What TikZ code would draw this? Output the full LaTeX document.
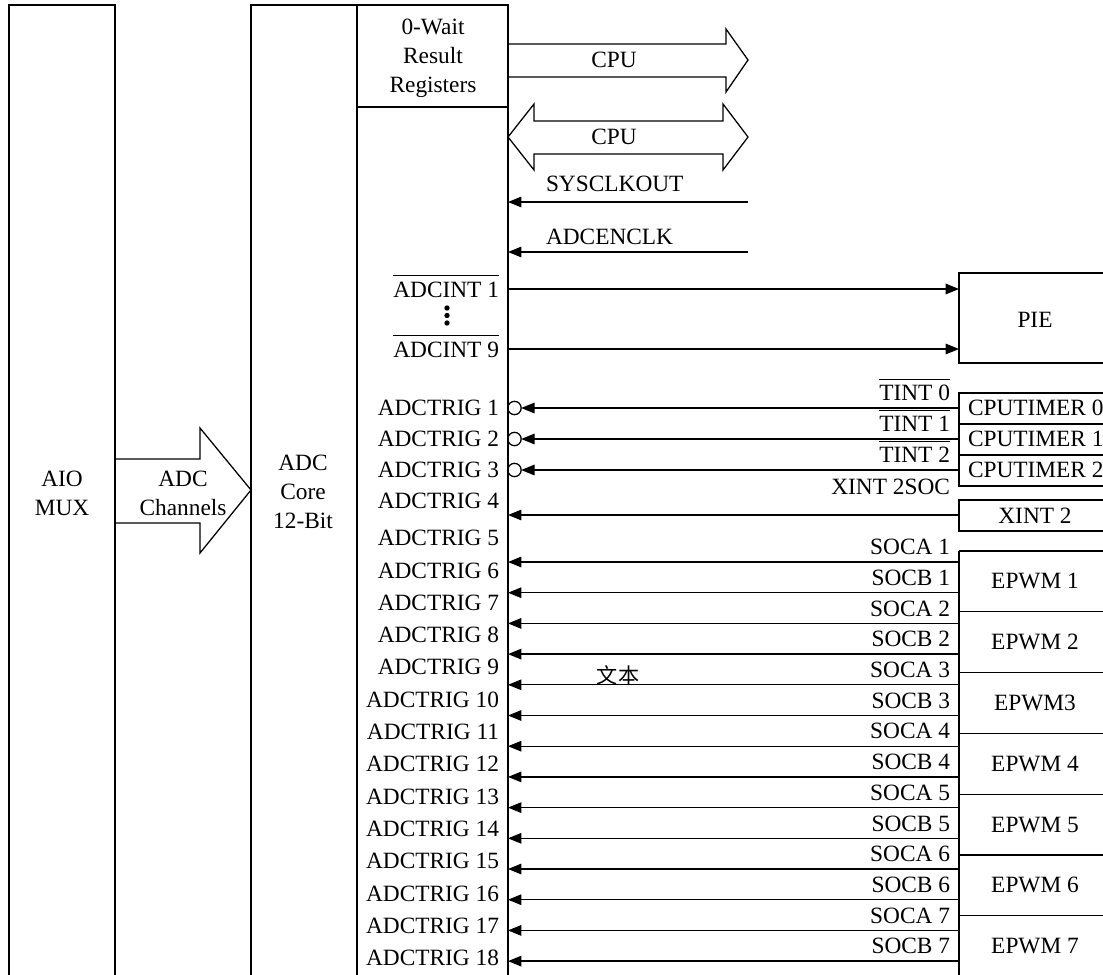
\documentclass[tikz,border=0pt]{standalone}
\usepackage{fontspec}
\setmainfont{Liberation Serif}
\newfontfamily\cjkfont{Noto Sans CJK SC}
\usetikzlibrary{arrows.meta}
\newcommand\myovl[1]{$\overline{\mbox{\rule{0pt}{13.8pt}#1}}$}
\begin{document}
\begin{tikzpicture}[x=0.025cm,y=-0.025cm,
  every node/.style={font=\fontsize{16.6}{20.5}\selectfont,inner sep=0pt,outer sep=0pt},
  ln/.style={line width=0.9pt},
  sig/.style={line width=0.9pt,-{Triangle[length=9.5pt,width=7.5pt]}},
  lab/.style={anchor=base east},
  ctr/.style={align=center},
  bub/.style={circle,draw,line width=0.9pt,minimum size=9.5pt,inner sep=0pt}
]
\useasboundingbox (0,0) rectangle (1103,974);
\fill[white] (0,0) rectangle (1103,974);
\clip (0,0) rectangle (1103,974);

% AIO MUX
\draw[ln] (9,990) -- (9,5) -- (115,5) -- (115,990);
\node[ctr] (aio) at (62,493) {AIO\\MUX};

% ADC core and register column
\draw[ln] (251,990) -- (251,5) -- (508,5) -- (508,990);
\draw[ln] (357,5) -- (357,990);
\draw[ln] (357,107) -- (508,107);
\node[ctr] (core) at (303,492) {ADC\\Core\\12-Bit};
\node[ctr] (res) at (433,58) {0-Wait\\Result\\Registers};

% ADC Channels block arrow
\draw[ln] (115,459) -- (200,459) -- (200,428) -- (251,490) -- (200,553) -- (200,523) -- (115,523);
\node[ctr] (chan) at (183,493) {ADC\\Channels};

% CPU arrows
\draw[ln] (508,44) -- (726,44) -- (726,29) -- (748,60) -- (726,92) -- (726,77) -- (508,77);
\node (cpu1) at (614,60) {CPU};
\draw[ln] (508,137) -- (534,104) -- (534,121) -- (723,121) -- (723,104) -- (748,137) -- (723,170) -- (723,154) -- (534,154) -- (534,170) -- cycle;
\node (cpu2) at (614,137) {CPU};

% clocks
\coordinate (sysR) at (748,202); \coordinate (sysL) at (508,202);
\draw[sig] (sysR) -- (sysL);
\node[anchor=base west] (sysclk) at (546,191.5) {SYSCLKOUT};
\coordinate (encR) at (748,252); \coordinate (encL) at (508,252);
\draw[sig] (encR) -- (encL);
\node[anchor=base west] (enclk) at (546,244.5) {ADCENCLK};

% PIE
\draw[ln] (959,273) rectangle (1110,363);
\node (pie) at (1035,320) {PIE};
\coordinate (int1L) at (508,289); \coordinate (int1R) at (959,289);
\coordinate (int9L) at (508,349); \coordinate (int9R) at (959,349);
\draw[sig] (int1L) -- (int1R);
\draw[sig] (int9L) -- (int9R);
\node[lab] (adcint1) at (499,297) {\myovl{ADCINT 1}};
\node[lab] (adcint9) at (499,357) {\myovl{ADCINT 9}};
\foreach \d in {308,315.5,323} \fill (447,\d) circle[radius=1.9pt];

% ADCTRIG labels
\foreach \k in {1,...,4} \node[lab] (trig\k) at (499,{408+(\k-1)*31+7.7}) {ADCTRIG \k};
\foreach \k in {5,...,18} \node[lab] (trig\k) at (499,{538+(\k-5)*32.3+7.7}) {ADCTRIG \k};

% CPU timers
\draw[ln] (959,393) rectangle (1110,486);
\draw[ln] (959,424) -- (1110,424);
\draw[ln] (959,455) -- (1110,455);
\foreach \k/\tn in {1/0,2/1,3/2} {
  \pgfmathsetmacro\yy{408+(\k-1)*31}
  \node[bub] (o\k) at (514.5,\yy) {};
  \coordinate (tr\k) at (959,\yy);
  \draw[sig] (tr\k) -- (o\k.east);
  \node[lab] (tl\k) at (950,{\yy-15+7.7}) {\myovl{TINT \tn}};
  \node[anchor=base west] (ct\k) at (968,{\yy+7.7}) {CPUTIMER \tn};
}

% XINT 2
\draw[ln] (959,500) rectangle (1110,531);
\node (xint) at (1035,516) {XINT 2};
\coordinate (xR) at (959,515); \coordinate (xL) at (508,515);
\draw[sig] (xR) -- (xL);
\node[lab] (xsoc) at (950,494.7) {XINT 2SOC};

% EPWM blocks
\draw[ln] (959,551) -- (959,990);
\foreach \k/\t in {1/EPWM 1,2/EPWM 2,3/EPWM3,4/EPWM 4,5/EPWM 5,6/EPWM 6,7/EPWM 7} {
  \pgfmathsetmacro\yy{551+(\k-1)*60.8}
  \draw[ln] (959,\yy) -- (1110,\yy);
  \node (ep\k) at (1035,{\yy+30.4}) {\t};
}

% SOC signals
\foreach \i in {1,...,14} {
  \pgfmathsetmacro\yy{562+(\i-1)*30.7}
  \pgfmathtruncatemacro\n{(\i+1)/2}
  \coordinate (sr\i) at (959,\yy);
  \coordinate (sl\i) at (508,\yy);
  \draw[sig] (sr\i) -- (sl\i);
  \node[lab] (sn\i) at (950,{\yy-15+7.7}) {SOC\ifodd\i\relax A\else B\fi\ \n};
}

% stray text
\node (wb) at (618,675) {\cjkfont\fontsize{15}{18}\selectfont 文本};
\end{tikzpicture}
\end{document}
